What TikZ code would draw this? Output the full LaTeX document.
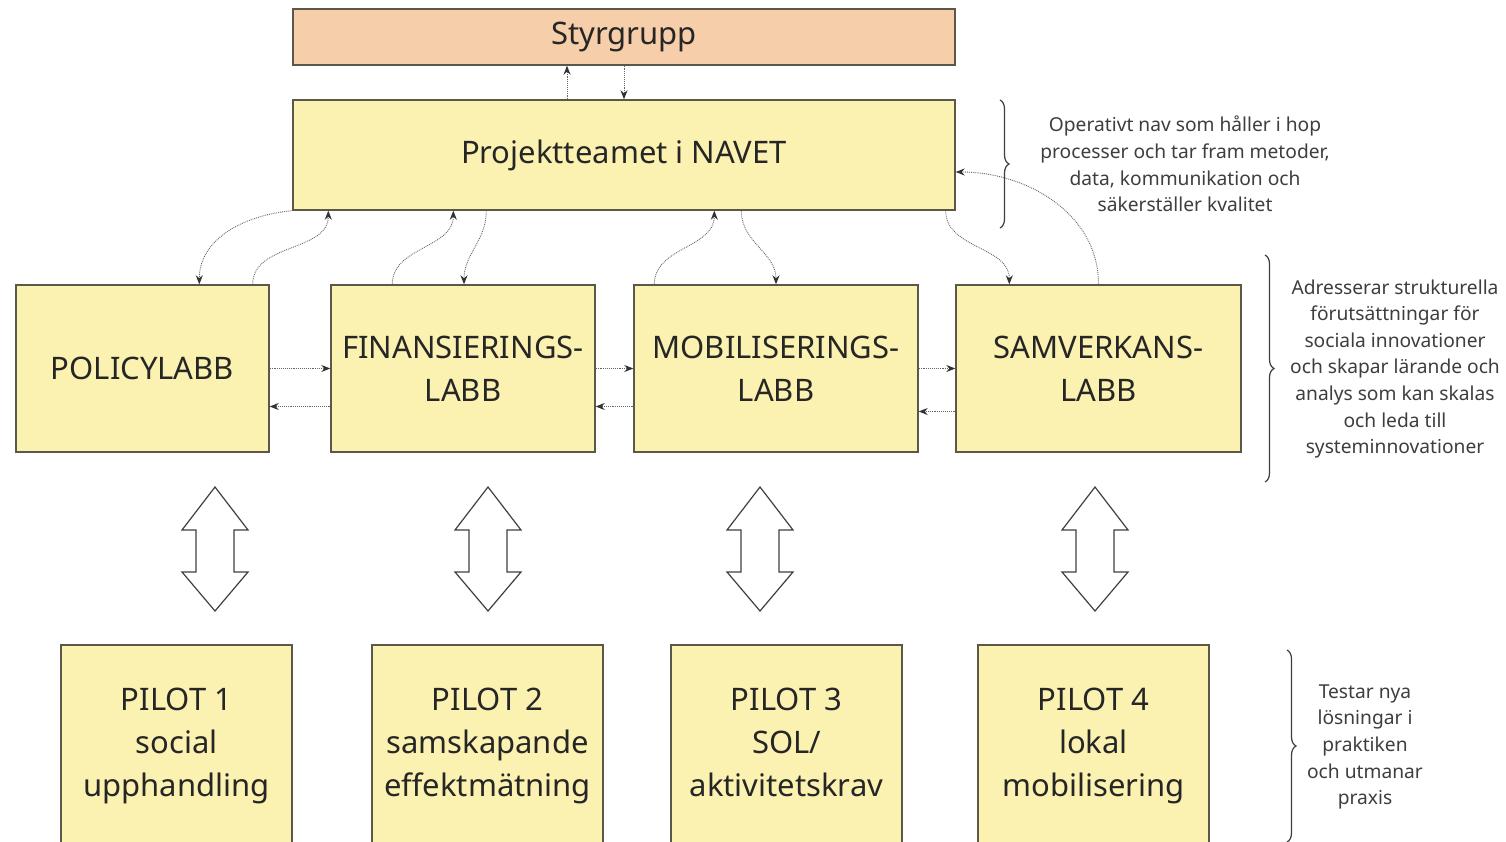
\documentclass[tikz,border=0pt]{standalone}
\usepackage{fontspec}
\setmainfont{Noto Sans}
\usetikzlibrary{positioning, arrows.meta, decorations.pathreplacing}
\tikzstyle{diagram} = [x = 1pt, y = -1pt]
\definecolor{boxBorder}{RGB}{92,88,72}
\definecolor{steerColor}{RGB}{246,206,169}
\definecolor{labColor}{RGB}{251,241,176}
\definecolor{textColor}{RGB}{38,38,38}
\definecolor{noteColor}{RGB}{62,62,62}
\tikzstyle{boxStyle} = [draw=boxBorder, fill=labColor, line width=1.4pt, align=center, text=textColor, font=\fontsize{31}{43}\selectfont, inner sep=0pt]
\tikzstyle{dottedArrow} = [draw=black!60, densely dotted, line width=0.9pt, -{Stealth[length=9pt, width=7pt, color=black!80]}]
\tikzstyle{bigArrowStyle} = [draw=black!75, fill=white, line width=1.2pt, line join=miter]
\tikzstyle{braceStyle} = [draw=noteColor, line width=1.2pt, decorate, decoration={brace, amplitude=9pt}]
\tikzstyle{noteText} = [align=center, text=noteColor, font=\fontsize{19.2}{26.6}\selectfont]
\newcommand{\labBox}[4]{\node [boxStyle, minimum width=#3, minimum height=167] (#1) at (#2, 368.5) {#4};}
\newcommand{\pilotBox}[4]{\node [boxStyle, minimum width=231, minimum height=200] (#1) at (#2, 745) {\strut #3\\#4\strut};}
\newcommand{\doubleArrow}[1]{\draw [bigArrowStyle] (#1, 487) -- (#1 + 33, 530) -- (#1 + 19, 530) -- (#1 + 19, 572) -- (#1 + 33, 572) -- (#1, 611) -- (#1 - 33, 572) -- (#1 - 19, 572) -- (#1 - 19, 530) -- (#1 - 33, 530) -- cycle;}

\begin{document}
\begin{tikzpicture}[diagram]
  \path [use as bounding box, clip] (0,0) rectangle (1506,842);
  \fill [white] (0,0) rectangle (1506,842);

  % top level
  \node [boxStyle, fill=steerColor, minimum width=662, minimum height=56] (styr) at (624, 37) {Styrgrupp};
  \node [boxStyle, minimum width=662, minimum height=110] (navet) at (624, 155) {Projektteamet i NAVET};
  \draw [dottedArrow] ([xshift=-57pt]navet.north) -- ([xshift=-57pt]styr.south);
  \draw [dottedArrow] (styr.south) -- (navet.north);

  % labs
  \labBox{policy}{142.5}{253}{POLICYLABB}
  \labBox{finans}{463}{264}{FINANSIERINGS-\\LABB}
  \labBox{mobil}{776}{284}{MOBILISERINGS-\\LABB}
  \labBox{samverk}{1098.5}{285}{SAMVERKANS-\\LABB}

  \draw [dottedArrow] (navet.south west) to [out=185, in=90] ([xshift=184pt]policy.north west);
  \draw [dottedArrow] ([xshift=-17pt]policy.north east) to [out=90, in=-90] ([xshift=36pt]navet.south west);
  \draw [dottedArrow] ([xshift=62pt]finans.north west) to [out=90, in=-90] ([xshift=161pt]navet.south west);
  \draw [dottedArrow] ([xshift=194pt]navet.south west) to [out=-90, in=90] ([xshift=1pt]finans.north);
  \draw [dottedArrow] ([xshift=21pt]mobil.north west) to [out=90, in=-90] ([xshift=422pt]navet.south west);
  \draw [dottedArrow] ([xshift=449pt]navet.south west) to [out=-90, in=90] (mobil.north);
  \draw [dottedArrow] ([xshift=-10pt]navet.south east) to [out=-90, in=90] ([xshift=54pt]samverk.north west);
  \draw [dottedArrow] (samverk.north) to [out=90, in=0] ([yshift=-17pt]navet.east);

  \draw [dottedArrow] (policy.east) -- (finans.west);
  \draw [dottedArrow] ([yshift=-38pt]finans.west) -- ([yshift=-38pt]policy.east);
  \draw [dottedArrow] (finans.east) -- (mobil.west);
  \draw [dottedArrow] ([yshift=-38pt]mobil.west) -- ([yshift=-38pt]finans.east);
  \draw [dottedArrow] (mobil.east) -- (samverk.west);
  \draw [dottedArrow] ([yshift=-43pt]samverk.west) -- ([yshift=-43pt]mobil.east);

  % labs <-> pilots
  \doubleArrow{215}
  \doubleArrow{488}
  \doubleArrow{760}
  \doubleArrow{1095}

  % pilots
  \pilotBox{pilotOne}{176.5}{PILOT 1}{social\\upphandling}
  \pilotBox{pilotTwo}{487.5}{PILOT 2}{samskapande\\effektmätning}
  \pilotBox{pilotThree}{786.5}{PILOT 3}{SOL/\\aktivitetskrav}
  \pilotBox{pilotFour}{1093.5}{PILOT 4}{lokal\\mobilisering}

  % notes
  \draw [braceStyle] (1000, 100) -- (1000, 228);
  \node [noteText] (noteNavet) at (1185, 164) {Operativt nav som håller i hop\\processer och tar fram metoder,\\data, kommunikation och\\säkerställer kvalitet};
  \draw [braceStyle] (1265, 255) -- (1265, 482);
  \node [noteText] (noteLabs) at (1395, 369) {Adresserar strukturella\\förutsättningar för\\sociala innovationer\\och skapar lärande och\\analys som kan skalas\\och leda till\\systeminnovationer};
  \draw [braceStyle] (1287, 650) -- (1287, 842);
  \node [noteText] (notePilots) at (1365, 747) {Testar nya\\lösningar i\\praktiken\\och utmanar\\praxis};
\end{tikzpicture}
\end{document}
